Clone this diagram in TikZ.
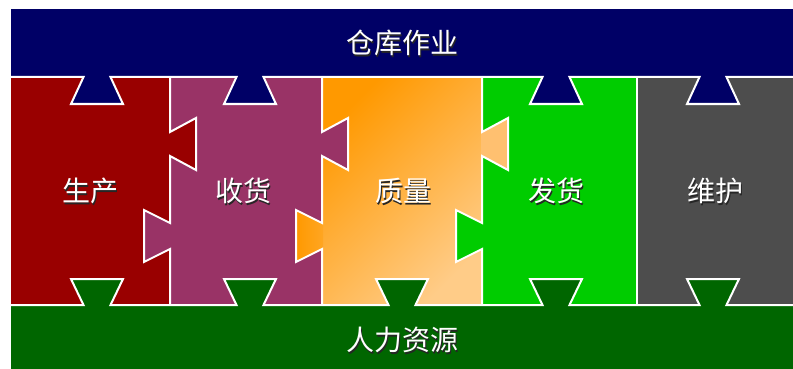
\documentclass[tikz,border=0pt]{standalone}
\usepackage{fontspec}
\newfontfamily\cjk{Noto Sans CJK SC}
\usepackage{tikz}

\definecolor{navybar}{HTML}{000066}
\definecolor{hrgreen}{HTML}{006600}
\definecolor{prodred}{HTML}{990000}
\definecolor{recvpurple}{HTML}{993366}
\definecolor{qualA}{HTML}{FF9900}
\definecolor{qualB}{HTML}{FFCC88}
\definecolor{qualC}{HTML}{FFC070}
\definecolor{shipgreen}{HTML}{00CC00}
\definecolor{maintgray}{HTML}{4D4D4D}

\newcommand{\shadowtext}[1]{\rlap{\kern1.6pt\raisebox{-1.6pt}{\color{black!85}#1}}#1}

\begin{document}
\begin{tikzpicture}[
    x=1pt,y=-1pt,
    line join=miter,
    seam/.style={draw=white,line width=2pt},
    caption/.style={text=white,inner sep=0pt,
        font=\cjk\fontsize{28}{30}\selectfont}
  ]
    \useasboundingbox (0,0) rectangle (793,369);

    % bars and columns
    \fill[navybar]    (11,9)    rectangle (793,77);
    \fill[hrgreen]    (11,305)  rectangle (793,369);
    \fill[prodred]    (11,77)   rectangle (170,305);
    \fill[recvpurple] (170,77)  rectangle (322,305);
    \fill[shipgreen]  (482,77)  rectangle (637,305);
    \fill[maintgray]  (637,77)  rectangle (793,305);
    \shade[top color=qualA,bottom color=qualB,shading angle=45]
        (322,77) -- (482,77) -- (482,305) -- (322,305) -- cycle;

    % side tabs
    \fill[prodred]    (169,132) -- (196,118) -- (196,170) -- (169,156) -- cycle;
    \fill[recvpurple] (171,223) -- (144,210) -- (144,262) -- (171,249) -- cycle;
    \fill[recvpurple] (321,132) -- (348,118) -- (348,170) -- (321,156) -- cycle;
    \shade[left color=qualA,right color=qualA!75!qualB]
        (323,223) -- (296,210) -- (296,262) -- (323,249) -- cycle;
    \fill[qualC]      (481,132) -- (508,118) -- (508,170) -- (481,156) -- cycle;
    \fill[shipgreen]  (483,223) -- (456,210) -- (456,262) -- (483,249) -- cycle;

    % top and bottom tabs
    \foreach \c in {97,250,556,713}
        \fill[navybar] (\c-13.5,76) -- (\c-26,104) -- (\c+26,104) -- (\c+13.5,76) -- cycle;
    \foreach \c in {97,250,402,556,713}
        \fill[hrgreen] (\c-13.5,306) -- (\c-26,279) -- (\c+26,279) -- (\c+13.5,306) -- cycle;

    % seams
    \draw[seam] (11,77) \foreach \c in {97,250,556,713}
        {-- (\c-13.5,77) -- (\c-26,104) -- (\c+26,104) -- (\c+13.5,77)} -- (793,77);
    \draw[seam] (11,305) \foreach \c in {97,250,402,556,713}
        {-- (\c-13.5,305) -- (\c-26,279) -- (\c+26,279) -- (\c+13.5,305)} -- (793,305);
    \foreach \x in {170,322,482}
        \draw[seam] (\x,77) -- (\x,132) -- (\x+26,118) -- (\x+26,170) -- (\x,156)
            -- (\x,223) -- (\x-26,210) -- (\x-26,262) -- (\x,249) -- (\x,305);
    \draw[seam] (637,77) -- (637,305);

    \node[caption] (ops)   at (402,44)  {\shadowtext{仓库作业}};
    \node[caption] (prod)  at (90,192)  {\shadowtext{生产}};
    \node[caption] (recv)  at (243,192) {\shadowtext{收货}};
    \node[caption] (qual)  at (403,192) {\shadowtext{质量}};
    \node[caption] (ship)  at (556,192) {\shadowtext{发货}};
    \node[caption] (maint) at (715,192) {\shadowtext{维护}};
    \node[caption] (hr)    at (402,341) {\shadowtext{人力资源}};
\end{tikzpicture}
\end{document}
